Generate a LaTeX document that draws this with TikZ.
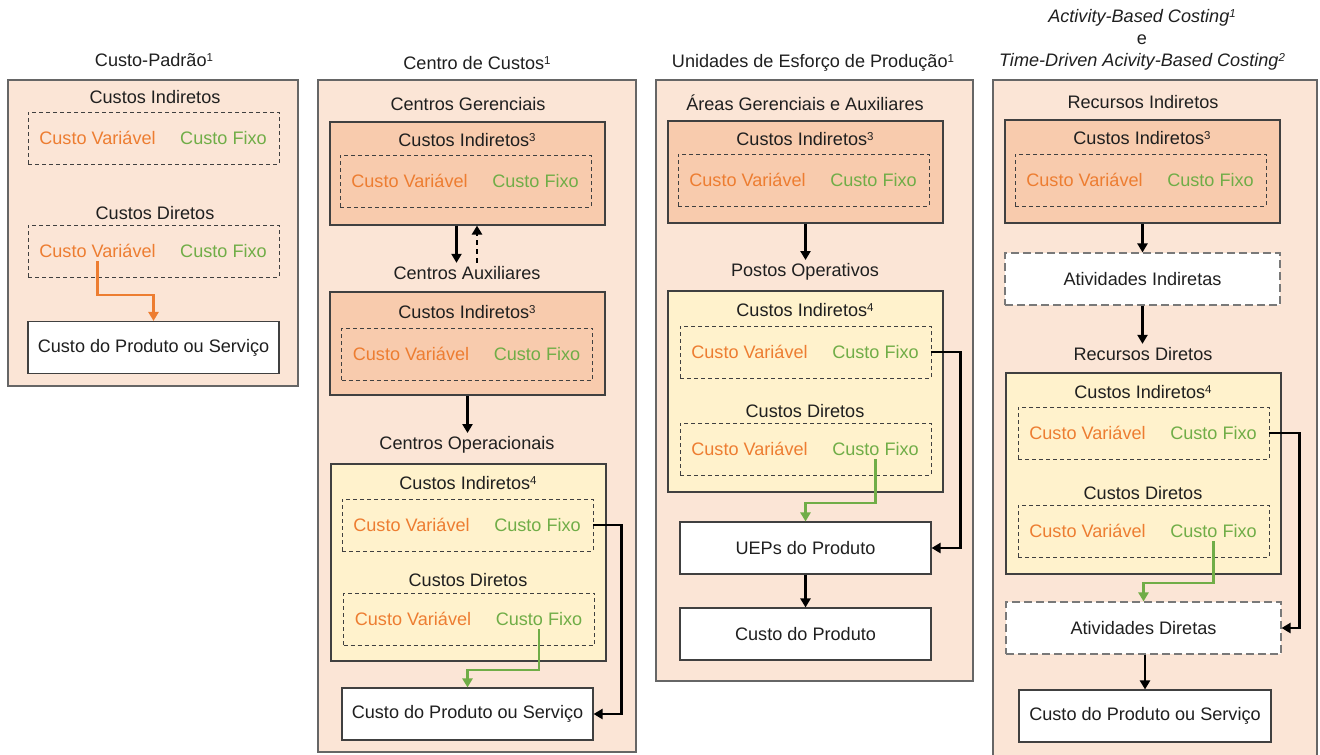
\documentclass[tikz,border=0pt]{standalone}
\usepackage{fontspec}
\setmainfont{Liberation Sans}
\usetikzlibrary{arrows.meta}

\definecolor{peach}{HTML}{FBE5D6}
\definecolor{salmon}{HTML}{F8CBAD}
\definecolor{cream}{HTML}{FFF2CC}
\definecolor{varcol}{HTML}{ED7D31}
\definecolor{fixcol}{HTML}{70AD47}
\definecolor{edge}{HTML}{404040}
\definecolor{ink}{HTML}{1F1F1F}

% small raised digit used for footnote marks
\newcommand\supnum[1]{\raisebox{5.5pt}{\fontsize{11.5}{11.5}\selectfont #1}}

% dashed frame holding the variable / fixed cost pair
\newcommand\costpair[3]{%
  \node[pairbox] (#1) at (#2,#3) {};
  \node[varlbl] (#1v) at ([xshift=-56pt]#1.center) {Custo Variável};
  \node[fixlbl] (#1f) at ([xshift=70pt]#1.center) {Custo Fixo};
}

\tikzset{
  panel/.style={draw=edge!80, fill=peach, line width=1.1pt, inner sep=0pt},
  indbox/.style={draw=edge, fill=salmon, line width=1.1pt, inner sep=0pt},
  opbox/.style={draw=edge, fill=cream, line width=1.1pt, inner sep=0pt},
  resbox/.style={draw=edge, fill=white, line width=1.1pt, text=ink,
    minimum width=251pt, minimum height=52pt},
  actbox/.style={draw=edge!70, fill=white, line width=1.1pt, text=ink,
    dash pattern=on 8pt off 4pt, minimum width=275pt, minimum height=52pt},
  pairbox/.style={draw=edge, line width=0.8pt, dash pattern=on 4pt off 3pt,
    minimum width=251pt, minimum height=52pt, inner sep=0pt},
  varlbl/.style={text=varcol},
  fixlbl/.style={text=fixcol},
  lbl/.style={text=ink},
  flow/.style={draw=black, line width=2.9pt, -{Triangle[length=9pt,width=10pt]}},
  backflow/.style={flow, line width=2.4pt, dash pattern=on 5pt off 4pt},
  varflow/.style={draw=varcol, line width=2.8pt, -{Triangle[length=9pt,width=10pt]}},
  fixflow/.style={draw=fixcol, line width=2.8pt, -{Triangle[length=9pt,width=10pt]}},
}

\begin{document}
\begin{tikzpicture}[x=1pt, y=-1pt, font=\fontsize{18.1}{22}\selectfont]
\useasboundingbox (0,0) rectangle (1320,755);

% ---------------- Custo-Padrão ----------------
\node[lbl] (t1) at (154,60) {Custo-Padrão\supnum{1}};
\node[panel, minimum width=290pt, minimum height=306pt] (p1) at (153,233) {};
\node[lbl] (p1ilab) at (155,97) {Custos Indiretos};
\costpair{p1i}{153.5}{138}
\node[lbl] (p1dlab) at (155,213) {Custos Diretos};
\costpair{p1d}{153.5}{251}
\node[resbox] (p1r) at (153.5,347.5) {Custo do Produto ou Serviço};
\draw[varflow] (p1dv.south) -- (p1dv.south |- 0,295) -- (p1r.north |- 0,295) -- (p1r.north);

% ---------------- Centro de Custos ----------------
\node[lbl] (t2) at (477,63) {Centro de Custos\supnum{1}};
\node[panel, minimum width=318pt, minimum height=672pt] (p2) at (477,416) {};
\node[lbl] (p2glab) at (468,104) {Centros Gerenciais};
\node[indbox, minimum width=275pt, minimum height=103pt] (p2g) at (467.5,173.5) {};
\node[lbl] (p2gt) at (467,140) {Custos Indiretos\supnum{3}};
\costpair{p2gi}{465.5}{181}
\node[lbl] (p2alab) at (467,273) {Centros Auxiliares};
\draw[flow] ([xshift=-11pt]p2g.south) -- ([xshift=-11pt]p2g.south |- p2alab.north);
\draw[backflow] ([xshift=9.5pt]p2g.south |- p2alab.north) -- ([xshift=9.5pt]p2g.south);
\node[indbox, minimum width=275pt, minimum height=103pt] (p2a) at (467.5,343.5) {};
\node[lbl] (p2at) at (467,312) {Custos Indiretos\supnum{3}};
\costpair{p2ai}{467}{354}
\node[lbl] (p2olab) at (467,445) {Centros Operacionais};
\draw[flow] (p2a.south) -- (p2a.south |- p2olab.north);
\node[opbox, minimum width=275pt, minimum height=197pt] (p2o) at (468.5,562.5) {};
\node[lbl] (p2ot) at (468,483) {Custos Indiretos\supnum{4}};
\costpair{p2oi}{467.5}{525}
\node[lbl] (p2odlab) at (468,580) {Custos Diretos};
\costpair{p2od}{469}{619}
\node[resbox] (p2r) at (467.5,714) {Custo do Produto ou Serviço};
\draw[fixflow] (p2odf.south) -- (p2odf.south |- 0,670) -- (p2r.north |- 0,670) -- (p2r.north);
\draw[flow] (p2oi.east) -- ++(28,0) |- (p2r.east);

% ---------------- Unidades de Esforço de Produção ----------------
\node[lbl] (t3) at (813,63) {Unidades de Esforço de Produção\supnum{1}};
\node[panel, minimum width=317pt, minimum height=601pt] (p3) at (814.5,380.5) {};
\node[lbl] (p3glab) at (805,103) {Áreas Gerenciais e Auxiliares};
\node[indbox, minimum width=275pt, minimum height=102pt] (p3g) at (805.5,172) {};
\node[lbl] (p3gt) at (805,139) {Custos Indiretos\supnum{3}};
\costpair{p3gi}{803.5}{180}
\node[lbl] (p3plab) at (805,272) {Postos Operativos};
\draw[flow] (p3g.south) -- (p3g.south |- p3plab.north);
\node[opbox, minimum width=275pt, minimum height=201pt] (p3p) at (805.5,391.5) {};
\node[lbl] (p3pt) at (805,310) {Custos Indiretos\supnum{4}};
\costpair{p3pi}{805.5}{352}
\node[lbl] (p3pdlab) at (805,411) {Custos Diretos};
\costpair{p3pd}{805.5}{449}
\node[resbox] (p3u) at (805.5,548) {UEPs do Produto};
\node[resbox] (p3c) at (805.5,634) {Custo do Produto};
\draw[fixflow] (p3pdf.south) -- (p3pdf.south |- 0,503) -- (p3u.north |- 0,503) -- (p3u.north);
\draw[flow] (p3pi.east) -- ++(29,0) |- (p3u.east);
\draw[flow] (p3u.south) -- (p3c.north);

% ---------------- ABC e TDABC ----------------
\node[lbl] (t4a) at (1142,18) {\itshape Activity-Based Costing\supnum{1}};
\node[lbl] (t4b) at (1142,40) {e};
\node[lbl] (t4c) at (1142,62) {\itshape Time-Driven Acivity-Based Costing\supnum{2}};
\node[panel, minimum width=324pt, minimum height=678pt] (p4) at (1155,419) {};
\node[lbl] (p4glab) at (1143,102) {Recursos Indiretos};
\node[indbox, minimum width=275pt, minimum height=103pt] (p4g) at (1142.5,171.5) {};
\node[lbl] (p4gt) at (1142,138) {Custos Indiretos\supnum{3}};
\costpair{p4gi}{1140.5}{180}
\node[actbox] (p4ai) at (1142.5,279) {Atividades Indiretas};
\draw[flow] (p4g.south) -- (p4ai.north);
\node[lbl] (p4dlab) at (1143,354) {Recursos Diretos};
\draw[flow] (p4ai.south) -- (p4ai.south |- p4dlab.north);
\node[opbox, minimum width=275pt, minimum height=201pt] (p4d) at (1143.5,473.5) {};
\node[lbl] (p4dt) at (1143,392) {Custos Indiretos\supnum{4}};
\costpair{p4di}{1143.5}{433}
\node[lbl] (p4ddlab) at (1143,493) {Custos Diretos};
\costpair{p4dd}{1143.5}{531}
\node[actbox] (p4ad) at (1143.5,628) {Atividades Diretas};
\node[resbox, minimum width=252pt] (p4r) at (1145,716) {Custo do Produto ou Serviço};
\draw[fixflow] (p4ddf.south) -- (p4ddf.south |- 0,583) -- (p4ad.north |- 0,583) -- (p4ad.north);
\draw[flow] (p4di.east) -- ++(30,0) |- (p4ad.east);
\draw[flow] (p4r.north |- p4ad.south) -- (p4r.north);

\end{tikzpicture}
\end{document}
